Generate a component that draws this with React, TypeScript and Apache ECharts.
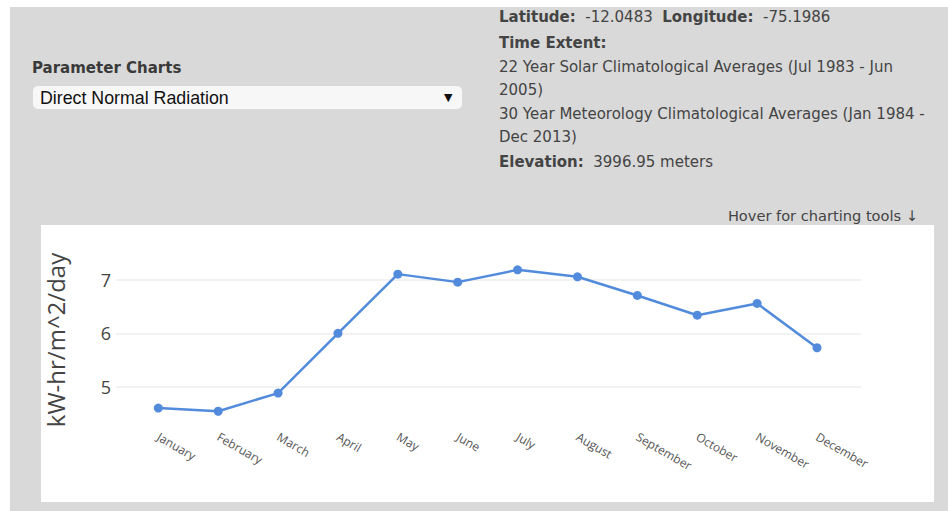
import React, { useEffect, useRef } from "react";
import * as echarts from "echarts";

const months = ["January","February","March","April","May","June","July","August","September","October","November","December"];
const dnr = [4.6, 4.54, 4.88, 6.0, 7.11, 6.96, 7.19, 7.06, 6.71, 6.34, 6.56, 5.73];
const yTicks = [5, 6, 7];

const FONT = "'DejaVu Sans', Verdana, sans-serif";
const TXT = "#3b3b3b";

export default function App() {
  const ref = useRef<HTMLDivElement>(null);
  useEffect(() => {
    document.body.style.margin = "0";
    const chart = echarts.init(ref.current!, undefined, { renderer: "svg" });
    const rich = {
      b: { fontFamily: FONT, fontSize: 15, fontWeight: "bold", color: TXT },
      n: { fontFamily: FONT, fontSize: 15, color: "#444" },
    };
    const infoLine = (y: number, text: string) => ({
      type: "text", left: 499, top: y - 8,
      style: { text, rich, fontFamily: FONT, fontSize: 15, fill: "#444" },
    });
    chart.setOption({
      animation: false,
      graphic: [
        { type: "rect", shape: { x: 10, y: 7, width: 938, height: 504 }, style: { fill: "#d9d9d9" }, z: -10 },
        { type: "rect", shape: { x: 41, y: 225, width: 893, height: 277 }, style: { fill: "#ffffff" }, z: -9 },
        { type: "text", left: 32, top: 60, style: { text: "Parameter Charts", fontFamily: FONT, fontSize: 15, fontWeight: "bold", fill: "#3a3a3a" } },
        { type: "rect", shape: { x: 33, y: 86, width: 429, height: 23, r: 5 }, style: { fill: "#f7f7f7" } },
        { type: "text", left: 40, top: 89, style: { text: "Direct Normal Radiation", fontFamily: "'Liberation Sans', Arial, sans-serif", fontSize: 17.8, fill: "#111" } },
        { type: "text", left: 444, top: 92, style: { text: "▼", fontFamily: "'DejaVu Sans', sans-serif", fontSize: 11, fill: "#111" } },
        infoLine(17, "{b|Latitude:}{n|  -12.0483  }{b|Longitude:}{n|  -75.1986}"),
        infoLine(43, "{b|Time Extent:}"),
        infoLine(67, "{n|22 Year Solar Climatological Averages (Jul 1983 - Jun}"),
        infoLine(90, "{n|2005)}"),
        infoLine(114, "{n|30 Year Meteorology Climatological Averages (Jan 1984 -}"),
        infoLine(137, "{n|Dec 2013)}"),
        infoLine(162, "{b|Elevation:}{n|  3996.95 meters}"),
        { type: "text", right: 30, top: 208, style: { text: "Hover for charting tools ↓", fontFamily: FONT, fontSize: 14.6, fill: "#444" } },
        { type: "text", x: 55, y: 340, rotation: Math.PI / 2, style: { text: "kW-hr/m^2/day", fontFamily: "'Open Sans', sans-serif", fontSize: 24, fill: "#444", align: "center", verticalAlign: "middle" } },
      ],
      grid: [
        { left: 116, width: 745, top: 280, height: 106.7 },
        { left: 158.3, width: 658.7, top: 280, height: 106.7 },
      ],
      xAxis: [
        { gridIndex: 0, type: "category", data: months, show: false },
        {
          gridIndex: 1, type: "category", data: months, boundaryGap: false,
          axisLine: { show: false }, axisTick: { show: false },
          axisLabel: { rotate: -30, margin: 49, fontSize: 12, color: "#555", fontFamily: "'Open Sans', sans-serif", interval: 0 },
        },
      ],
      yAxis: [
        {
          gridIndex: 0, type: "value", min: yTicks[0], max: yTicks[yTicks.length - 1], interval: 1,
          axisLine: { show: false }, axisTick: { show: false },
          axisLabel: { fontSize: 18, color: "#444", margin: 5, fontFamily: "'Open Sans', sans-serif" },
          splitLine: { lineStyle: { color: "#eeeeee", width: 1.5 } },
        },
        { gridIndex: 1, type: "value", min: 5, max: 7, show: false, splitLine: { show: false } },
      ],
      series: [
        {
          type: "line", xAxisIndex: 1, yAxisIndex: 1, data: dnr, clip: false,
          symbol: "circle", symbolSize: 9,
          lineStyle: { color: "#528bdb", width: 2.5 },
          itemStyle: { color: "#528bdb" },
        },
      ],
    });
    return () => chart.dispose();
  }, []);
  return <div ref={ref} style={{ position: "absolute", left: 0, top: 0, width: 948, height: 511 }} />;
}
